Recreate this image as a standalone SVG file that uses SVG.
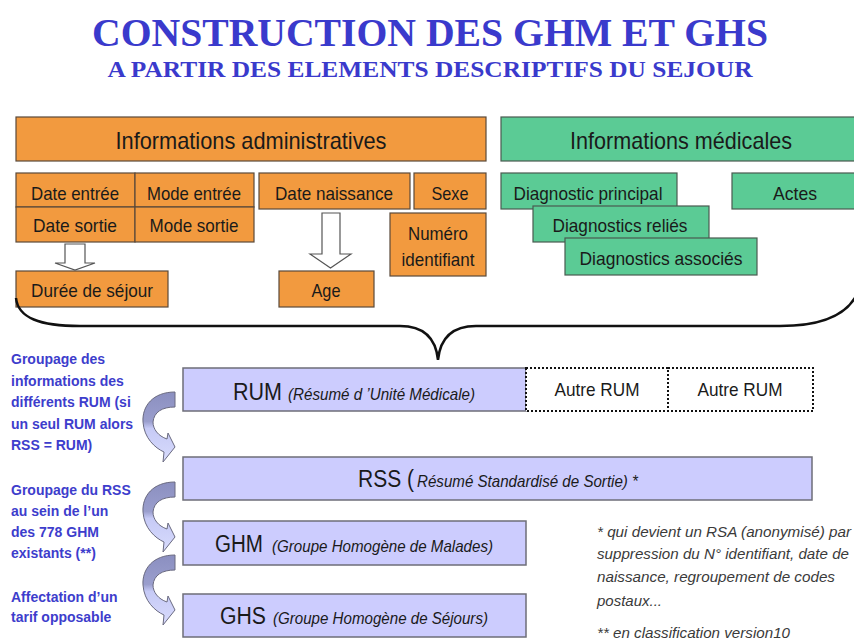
<svg xmlns="http://www.w3.org/2000/svg" width="854" height="641" viewBox="0 0 854 641">
<style>
.t{font-family:"Liberation Serif","Times New Roman",serif;font-weight:bold;fill:#3a3acc;text-anchor:middle}
.or{fill:#f29a3f;stroke:#5a4a3a;stroke-width:1.2}
.gr{fill:#5bcb95;stroke:#4a5a50;stroke-width:1.2}
.pu{fill:#ccccfe;stroke:#6e6e78;stroke-width:1.5}
.dot{fill:#ffffff;stroke:#111;stroke-width:2;stroke-dasharray:2 2}
.lb{font-family:"Liberation Sans",Arial,sans-serif;fill:#1a1a1a;text-anchor:middle}
.s17{font-size:19px}
.s22{font-size:24px}
.big{font-family:"Liberation Sans",Arial,sans-serif;fill:#1a1a1a;font-size:23px}
.it{font-family:"Liberation Sans",Arial,sans-serif;fill:#1a1a1a;font-style:italic;font-size:17px}
.bl{font-family:"Liberation Sans",Arial,sans-serif;font-weight:bold;font-size:14px;fill:#3d3dcc}
.fn{font-family:"Liberation Sans",Arial,sans-serif;font-style:italic;font-size:15px;fill:#3a3a3a}
.ha{fill:#fff;stroke:#555;stroke-width:1.2}
.brace{fill:none;stroke:#111;stroke-width:2.5}
.ca{fill:url(#cag);stroke:#6a6a80;stroke-width:1}
</style>
<defs>
<linearGradient id="cag" x1="0" y1="0" x2="0" y2="1">
<stop offset="0" stop-color="#8b8fc0"/>
<stop offset="0.42" stop-color="#9a9ecd"/>
<stop offset="0.52" stop-color="#c6caf6"/>
<stop offset="1" stop-color="#d8dbfc"/>
</linearGradient>
<path id="carrow" class="ca" d="M 0 0 C -22 0 -33 14 -32 30 C -31 46 -20 56 -11 60 L -12 70 L 0 55 L -7 41 L -8 47 C -17 44 -22 37 -22 30 C -21 20 -13 15 0 15 Z"/>
</defs>

<text class="t" x="430" y="46" font-size="40" textLength="676" lengthAdjust="spacingAndGlyphs">CONSTRUCTION DES GHM ET GHS</text>
<text class="t" x="430" y="77" font-size="23" textLength="645" lengthAdjust="spacingAndGlyphs">A PARTIR DES ELEMENTS DESCRIPTIFS DU SEJOUR</text>

<g id="info-admin"><rect class="or" x="16" y="117" width="470" height="44"/><text class="lb s22" x="251" y="149" textLength="271" lengthAdjust="spacingAndGlyphs">Informations administratives</text></g>
<g id="info-med"><rect class="gr" x="501" y="117" width="360" height="44"/><text class="lb s22" x="681" y="149" textLength="222" lengthAdjust="spacingAndGlyphs">Informations médicales</text></g>

<g id="date-entree"><rect class="or" x="16" y="173" width="119" height="34"/><text class="lb s17" x="75" y="200" textLength="88" lengthAdjust="spacingAndGlyphs">Date entrée</text></g>
<g id="mode-entree"><rect class="or" x="135" y="173" width="119" height="34"/><text class="lb s17" x="194" y="200" textLength="94" lengthAdjust="spacingAndGlyphs">Mode entrée</text></g>
<g id="date-sortie"><rect class="or" x="16" y="207" width="119" height="35"/><text class="lb s17" x="75" y="232" textLength="84" lengthAdjust="spacingAndGlyphs">Date sortie</text></g>
<g id="mode-sortie"><rect class="or" x="135" y="207" width="119" height="35"/><text class="lb s17" x="194" y="232" textLength="89" lengthAdjust="spacingAndGlyphs">Mode sortie</text></g>
<g id="date-naissance"><rect class="or" x="259" y="173" width="151" height="36"/><text class="lb s17" x="334" y="200" textLength="118" lengthAdjust="spacingAndGlyphs">Date naissance</text></g>
<g id="sexe"><rect class="or" x="414" y="173" width="72" height="36"/><text class="lb s17" x="450" y="200" textLength="37" lengthAdjust="spacingAndGlyphs">Sexe</text></g>
<g id="numero"><rect class="or" x="390" y="213" width="96" height="63"/><text class="lb s17" x="438" y="240" textLength="60" lengthAdjust="spacingAndGlyphs">Numéro</text><text class="lb s17" x="438" y="266" textLength="73" lengthAdjust="spacingAndGlyphs">identifiant</text></g>
<g id="duree"><rect class="or" x="16" y="271" width="152" height="36"/><text class="lb s17" x="92" y="297" textLength="122" lengthAdjust="spacingAndGlyphs">Durée de séjour</text></g>
<g id="age"><rect class="or" x="279" y="271" width="95" height="36"/><text class="lb s17" x="326" y="297" textLength="29" lengthAdjust="spacingAndGlyphs">Age</text></g>

<g id="diag-principal"><rect class="gr" x="501" y="173" width="176" height="36"/><text class="lb s17" x="588" y="200" textLength="149" lengthAdjust="spacingAndGlyphs">Diagnostic principal</text></g>
<g id="diag-relies"><rect class="gr" x="533" y="206" width="176" height="36"/><text class="lb s17" x="620" y="232" textLength="135" lengthAdjust="spacingAndGlyphs">Diagnostics reliés</text></g>
<g id="diag-associes"><rect class="gr" x="565" y="238" width="192" height="37"/><text class="lb s17" x="661" y="265" textLength="163" lengthAdjust="spacingAndGlyphs">Diagnostics associés</text></g>
<g id="actes"><rect class="gr" x="732" y="173" width="130" height="36"/><text class="lb s17" x="795" y="200" textLength="44" lengthAdjust="spacingAndGlyphs">Actes</text></g>

<g id="rum"><rect class="pu" x="183" y="368" width="343" height="43"/><text class="big" x="233" y="400" textLength="49" lengthAdjust="spacingAndGlyphs">RUM</text><text class="it" x="288" y="400" textLength="187" lengthAdjust="spacingAndGlyphs">(Résumé d ’Unité Médicale)</text></g>
<g id="autre-rum-1"><rect class="dot" x="526" y="368" width="142" height="43"/><text class="lb s17" x="597" y="396" textLength="85" lengthAdjust="spacingAndGlyphs">Autre RUM</text></g>
<g id="autre-rum-2"><rect class="dot" x="668" y="368" width="145" height="43"/><text class="lb s17" x="740" y="396" textLength="85" lengthAdjust="spacingAndGlyphs">Autre RUM</text></g>
<g id="rss"><rect class="pu" x="183" y="457" width="629" height="43"/><text class="big" x="358" y="487" textLength="56" lengthAdjust="spacingAndGlyphs">RSS (</text><text class="it" x="417" y="487" textLength="221" lengthAdjust="spacingAndGlyphs">Résumé Standardisé de Sortie) *</text></g>
<g id="ghm"><rect class="pu" x="183" y="521" width="343" height="44"/><text class="big" x="215" y="552" textLength="48" lengthAdjust="spacingAndGlyphs">GHM</text><text class="it" x="272" y="552" textLength="221" lengthAdjust="spacingAndGlyphs">(Groupe Homogène de Malades)</text></g>
<g id="ghs"><rect class="pu" x="183" y="594" width="343" height="43"/><text class="big" x="220" y="624" textLength="46" lengthAdjust="spacingAndGlyphs">GHS</text><text class="it" x="273" y="624" textLength="215" lengthAdjust="spacingAndGlyphs">(Groupe Homogène de Séjours)</text></g>

<g id="connectors">
<polygon class="ha" points="65,244 85,244 85,263 95,263 75,270 55,263 65,263"/>
<polygon class="ha" points="322,213 340,213 340,254 351,254 330.5,268 310,254 322,254"/>
<path class="brace" d="M 16 298 C 18 318 40 326 80 326 L 400 326 C 425 326 436 340 438 360 C 440 340 451 326 476 326 L 780 326 C 820 326 845 316 856 296"/>
<use href="#carrow" transform="translate(175,392)"/>
<use href="#carrow" transform="translate(175,482)"/>
<use href="#carrow" transform="translate(175,555)"/>
</g>

<g id="left-notes">
<text class="bl" x="11" y="364">Groupage des</text>
<text class="bl" x="11" y="386">informations des</text>
<text class="bl" x="11" y="407">différents RUM (si</text>
<text class="bl" x="11" y="429">un seul RUM alors</text>
<text class="bl" x="11" y="450">RSS = RUM)</text>
<text class="bl" x="11" y="495">Groupage du RSS</text>
<text class="bl" x="11" y="516">au sein de l’un</text>
<text class="bl" x="11" y="537">des 778 GHM</text>
<text class="bl" x="11" y="558">existants (**)</text>
<text class="bl" x="11" y="602">Affectation d’un</text>
<text class="bl" x="11" y="622">tarif opposable</text>
</g>

<g id="footnote">
<text class="fn" x="597" y="537" textLength="254" lengthAdjust="spacingAndGlyphs">* qui devient un RSA (anonymisé) par</text>
<text class="fn" x="597" y="559" textLength="252" lengthAdjust="spacingAndGlyphs">suppression du N° identifiant, date de</text>
<text class="fn" x="597" y="582" textLength="238" lengthAdjust="spacingAndGlyphs">naissance, regroupement de codes</text>
<text class="fn" x="597" y="606">postaux...</text>
<text class="fn" x="597" y="638" textLength="193" lengthAdjust="spacingAndGlyphs">** en classification version10</text>
</g>
</svg>
